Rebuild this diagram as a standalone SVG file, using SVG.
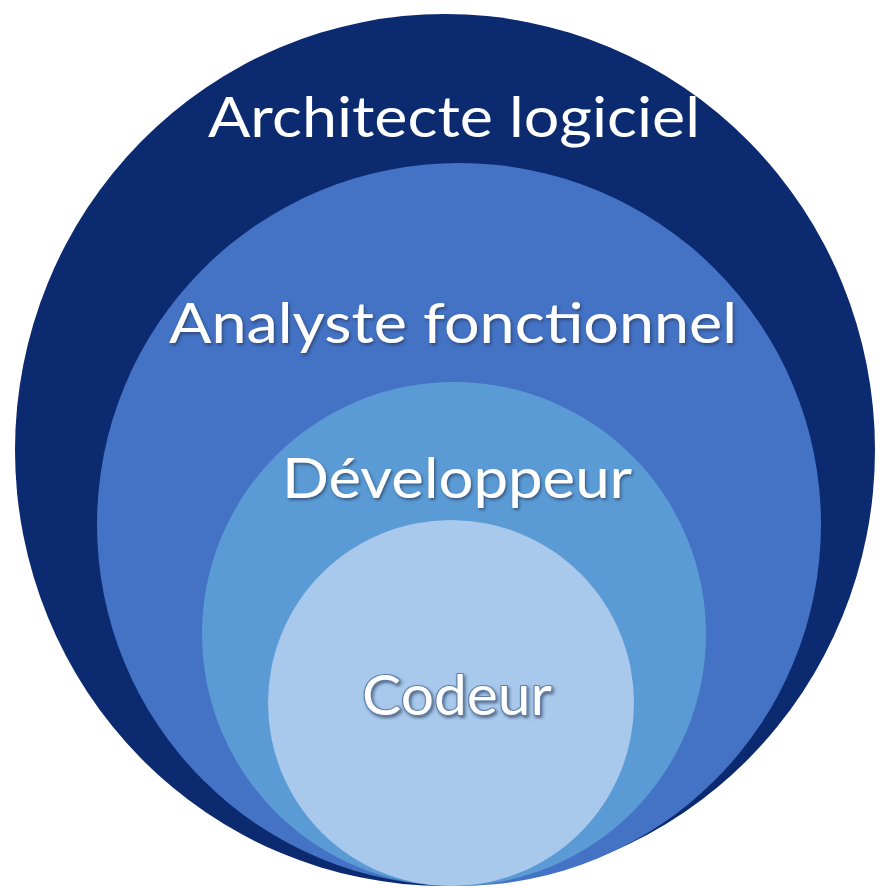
<svg xmlns="http://www.w3.org/2000/svg" width="882" height="888" viewBox="0 0 882 888">
  <defs>
    <filter id="shadow" x="-10%" y="-30%" width="120%" height="160%">
      <feDropShadow dx="1.5" dy="2" stdDeviation="1.5" flood-color="#1a2a4a" flood-opacity="0.6"/>
    </filter>
  </defs>
  <style>
    .lbl { font-family: Lato, "Open Sans", "Liberation Sans", sans-serif; font-size: 56px; fill: #ffffff; text-anchor: start; }
    .shd { filter: url(#shadow); }
    .outl { stroke: #5f7fa6; stroke-width: 2.2px; paint-order: stroke; stroke-linejoin: round; }
  </style>
  <rect width="882" height="888" fill="#ffffff"/>
  <g id="architecte">
    <ellipse cx="445" cy="450" rx="430" ry="436" fill="#0b2a6f"/>
    <text class="lbl" x="208" y="137" textLength="492" lengthAdjust="spacingAndGlyphs">Architecte logiciel</text>
  </g>
  <g id="analyste">
    <ellipse cx="459" cy="524.5" rx="362" ry="361.5" fill="#4472c4"/>
    <text class="lbl shd" x="169" y="343" textLength="568" lengthAdjust="spacingAndGlyphs">Analyste fonctionnel</text>
  </g>
  <g id="developpeur">
    <circle cx="454" cy="634" r="252" fill="#5b9bd5"/>
    <text class="lbl shd" x="282" y="498" textLength="350" lengthAdjust="spacingAndGlyphs">Développeur</text>
  </g>
  <g id="codeur">
    <circle cx="451" cy="703" r="183" fill="#a8c8ec"/>
    <text class="lbl shd outl" x="362" y="715" textLength="190" lengthAdjust="spacingAndGlyphs">Codeur</text>
  </g>
  <g id="connectors"/>
</svg>
